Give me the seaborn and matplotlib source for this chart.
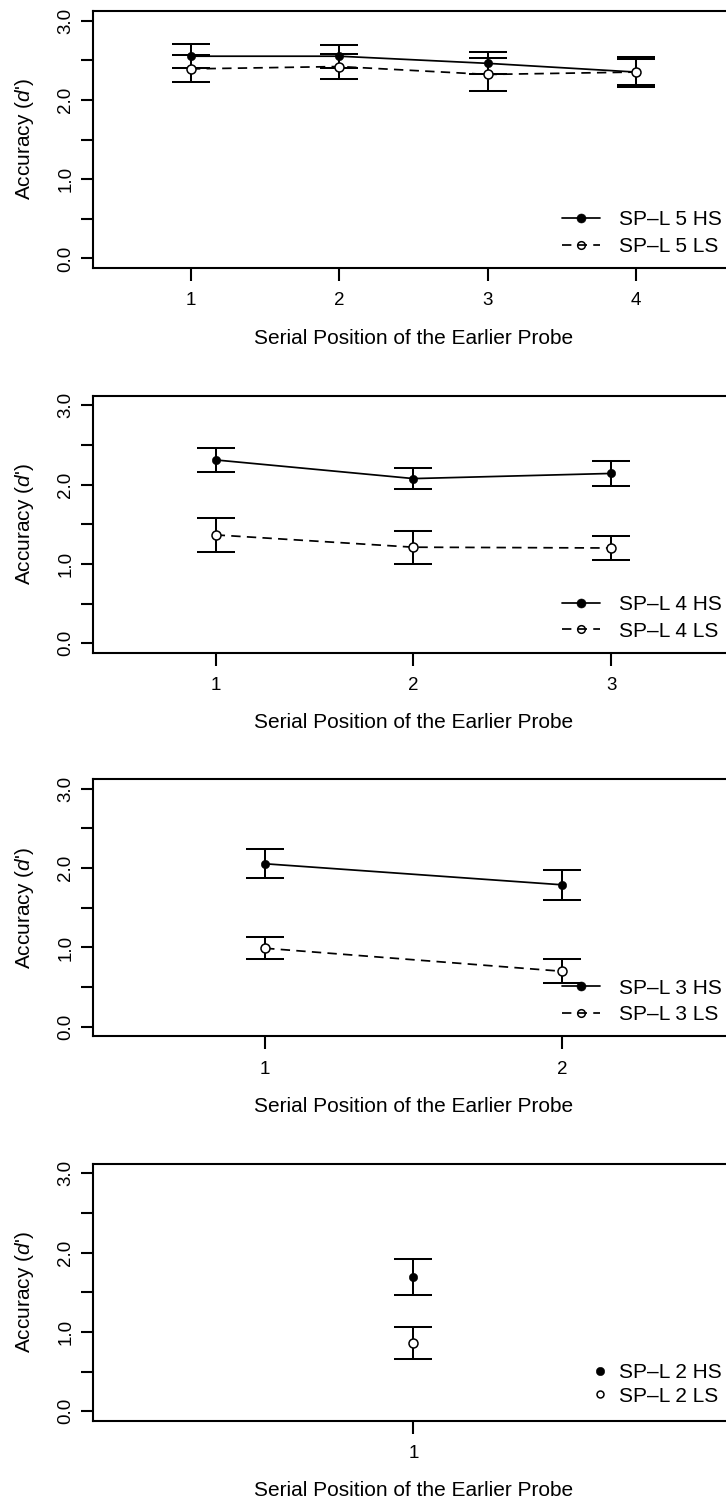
import numpy as np
import pandas as pd
import matplotlib
matplotlib.use("Agg")
import matplotlib.pyplot as plt
import seaborn as sns
from matplotlib.lines import Line2D

# Mean accuracy (d') and error-bar half-widths by serial position of the earlier probe
positions_5 = [1, 2, 3, 4]
hs_5 = [2.55, 2.55, 2.46, 2.35]
hs_5_err = [0.15, 0.145, 0.14, 0.16]
ls_5 = [2.39, 2.42, 2.32, 2.35]
ls_5_err = [0.17, 0.155, 0.21, 0.185]

positions_4 = [1, 2, 3]
hs_4 = [2.31, 2.075, 2.14]
hs_4_err = [0.15, 0.135, 0.16]
ls_4 = [1.365, 1.21, 1.20]
ls_4_err = [0.21, 0.21, 0.15]

positions_3 = [1, 2]
hs_3 = [2.055, 1.79]
hs_3_err = [0.185, 0.19]
ls_3 = [0.99, 0.70]
ls_3_err = [0.14, 0.15]

positions_2 = [1]
hs_2 = [1.69]
hs_2_err = [0.23]
ls_2 = [0.86]
ls_2_err = [0.20]

set_sizes = [5, 4, 3, 2]
y_ticks = [0.0, 0.5, 1.0, 1.5, 2.0, 2.5, 3.0]
y_tick_labels = ["0.0", "", "1.0", "", "2.0", "", "3.0"]
x_title = "Serial Position of the Earlier Probe"
y_title = "Accuracy ($d$')"

panels = [
    (positions_5, hs_5, hs_5_err, ls_5, ls_5_err),
    (positions_4, hs_4, hs_4_err, ls_4, ls_4_err),
    (positions_3, hs_3, hs_3_err, ls_3, ls_3_err),
    (positions_2, hs_2, hs_2_err, ls_2, ls_2_err),
]

sns.set_style("ticks")
plt.rcParams["font.family"] = ["Liberation Sans", "DejaVu Sans"]
plt.rcParams["mathtext.fontset"] = "custom"
plt.rcParams["mathtext.rm"] = "Liberation Sans"
plt.rcParams["mathtext.it"] = "Liberation Sans:italic"
plt.rcParams["axes.edgecolor"] = "black"
plt.rcParams["axes.linewidth"] = 1.5
plt.rcParams["axes.labelcolor"] = "black"
plt.rcParams["text.color"] = "black"
plt.rcParams["xtick.color"] = "black"
plt.rcParams["ytick.color"] = "black"
plt.rcParams["xtick.labelcolor"] = "black"
plt.rcParams["ytick.labelcolor"] = "black"

W, H = 726, 1501
fig = plt.figure(figsize=(W / 100, H / 100), dpi=100)
fig.patch.set_facecolor("white")

ax_left, ax_right, ax_h = 93, 734, 257
tops = [11, 395.7, 779.3, 1163.7]

dash = (0, (5.4, 3.6))
line_w = 1.25
err_w = 1.45

for top, size, (pos, hs, hs_e, ls, ls_e) in zip(tops, set_sizes, panels):
    ax = fig.add_axes([ax_left / W, 1 - (top + ax_h) / H,
                       (ax_right - ax_left) / W, ax_h / H])
    ax.set_facecolor("none")
    n = len(pos)
    ext = 0.04 * n
    ax.set_xlim(0.5 - ext, n + 0.5 + ext)
    ax.set_ylim(-0.12, 3.12)

    df = pd.DataFrame({"position": pos * 2,
                       "dprime": hs + ls,
                       "err": hs_e + ls_e,
                       "cond": ["HS"] * n + ["LS"] * n})
    d_hs = df[df["cond"] == "HS"]
    d_ls = df[df["cond"] == "LS"]

    for d in (d_hs, d_ls):
        ax.errorbar(d["position"], d["dprime"], yerr=d["err"], fmt="none",
                    ecolor="black", elinewidth=err_w, capsize=14,
                    capthick=err_w, zorder=2)

    if n > 1:
        sns.lineplot(data=d_hs, x="position", y="dprime", ax=ax,
                     color="black", linewidth=line_w, errorbar=None,
                     zorder=3)
        sns.lineplot(data=d_ls, x="position", y="dprime", ax=ax,
                     color="black", linewidth=line_w, linestyle=dash,
                     errorbar=None, zorder=3)

    sns.scatterplot(data=d_hs, x="position", y="dprime", ax=ax,
                    color="black", edgecolor="black", linewidth=0.4,
                    s=36, zorder=4)
    sns.scatterplot(data=d_ls, x="position", y="dprime", ax=ax,
                    color="white", edgecolor="black", linewidth=1.1,
                    s=42, zorder=5)

    ax.set_xticks(pos)
    ax.set_xticklabels([str(p) for p in pos])
    ax.set_yticks(y_ticks)
    ax.set_yticklabels(y_tick_labels, rotation=90, va="center")
    ax.tick_params(axis="both", length=9, width=1.5, direction="out",
                   labelsize=13.5, top=False, right=False,
                   colors="black", labelcolor="black")
    ax.tick_params(axis="y", pad=4.5)
    ax.tick_params(axis="x", pad=8.5)
    for sp in ax.spines.values():
        sp.set_visible(True)
        sp.set_linewidth(1.5)
        sp.set_color("black")

    ax.set_xlabel(x_title, fontsize=15, color="black")
    ax.xaxis.label.set_va("center")
    ax.xaxis.set_label_coords(0.5, -70 / ax_h)
    ax.set_ylabel(y_title, fontsize=15, color="black")
    ax.yaxis.label.set_va("center")
    ax.yaxis.set_label_coords((25 - ax_left) / (ax_right - ax_left), 0.5)

    labels = [f"SP\u2013L {size} HS", f"SP\u2013L {size} LS"]
    if n > 1:
        handles = [
            Line2D([], [], color="black", lw=line_w, marker="o", ms=6.5,
                   mec="black", mew=0.4),
            Line2D([], [], color="black", lw=line_w, ls=dash, marker="o",
                   ms=5.5, mfc="none", mec="black", mew=1.1),
        ]
        ax.legend(handles, labels, loc="lower left",
                  bbox_to_anchor=((562 - ax_left) / (ax_right - ax_left),
                                  12 / ax_h),
                  frameon=False, fontsize=15, handlelength=1.83,
                  handletextpad=0.91, borderpad=0, borderaxespad=0,
                  labelspacing=0.37, labelcolor="black")
    else:
        handles = [
            Line2D([], [], color="black", ls="none", marker="o", ms=6,
                   mec="black", mew=0.4),
            Line2D([], [], color="black", ls="none", marker="o", ms=5,
                   mfc="none", mec="black", mew=1.1),
        ]
        ax.legend(handles, labels, loc="lower left",
                  bbox_to_anchor=((590.6 - ax_left) / (ax_right - ax_left),
                                  15 / ax_h),
                  frameon=False, fontsize=15, handlelength=0.9,
                  handletextpad=0.47, borderpad=0, borderaxespad=0,
                  labelspacing=0.22, labelcolor="black")

fig.savefig("out.png", dpi=100, facecolor="white")
